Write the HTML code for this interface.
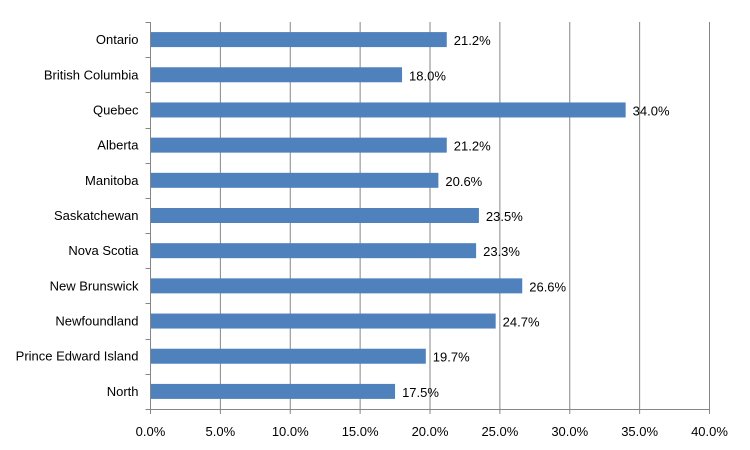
<!DOCTYPE html>
<html><head><meta charset="utf-8"><style>
body{margin:0;background:#fff;}
svg{display:block;font-family:"Liberation Sans",Arial,sans-serif;}
</style></head><body>
<svg id="chart" width="750" height="450"></svg>
<script>
const categories=["Ontario","British Columbia","Quebec","Alberta","Manitoba","Saskatchewan","Nova Scotia","New Brunswick","Newfoundland","Prince Edward Island","North"];
const values=[21.2,18.0,34.0,21.2,20.6,23.5,23.3,26.6,24.7,19.7,17.5];
const ticks=[0,5,10,15,20,25,30,35,40];
const svg=document.getElementById('chart');
const NS='http://www.w3.org/2000/svg';
const x0=150.5,x1=709.5,plotTop=22,plotBot=409,xmax=40;
const xs=v=>x0+(v/xmax)*(x1-x0);
const band=(plotBot-plotTop)/categories.length;
function mk(t,a,p){const e=document.createElementNS(NS,t);for(const k in a)e.setAttribute(k,a[k]);(p||svg).appendChild(e);return e;}
ticks.forEach((t,i)=>{
 const g=mk('line',{x1:xs(t),x2:xs(t),y1:plotTop,y2:plotBot+5,stroke:'#868686','stroke-width':1});
 
 
 const l=mk('text',{x:xs(t),y:436,'text-anchor':'middle','font-size':13,fill:'#000'});
 l.textContent=t.toFixed(1)+'%';
 
 
});
for(let i=0;i<=categories.length;i++){
 const y=Math.round(plotTop+i*band)+0.5;
 const tk=mk('line',{x1:x0-5,x2:x0,y1:y,y2:y,stroke:'#868686'});
 
 
}
const ax=mk('line',{x1:x0,x2:x0,y1:plotTop,y2:plotBot,stroke:'#868686'});


const ax2=mk('line',{x1:x0-5,x2:x1,y1:plotBot+0.5,y2:plotBot+0.5,stroke:'#868686'});


categories.forEach((c,i)=>{
 const cy=plotTop+(i+0.5)*band;
 const b=mk('rect',{x:x0+0.5,y:cy-7.5,width:xs(values[i])-x0-0.5,height:15,fill:'#4f81bd'});
 
 
 const l=mk('text',{x:x0-12,y:cy+4.5,'text-anchor':'end','font-size':13,fill:'#000'});
 l.textContent=c;
 
 
 const v=mk('text',{x:xs(values[i])+7,y:cy+5.5,'font-size':13,fill:'#000'});
 v.textContent=values[i].toFixed(1)+'%';
 
 
});
</script>
</body></html>
